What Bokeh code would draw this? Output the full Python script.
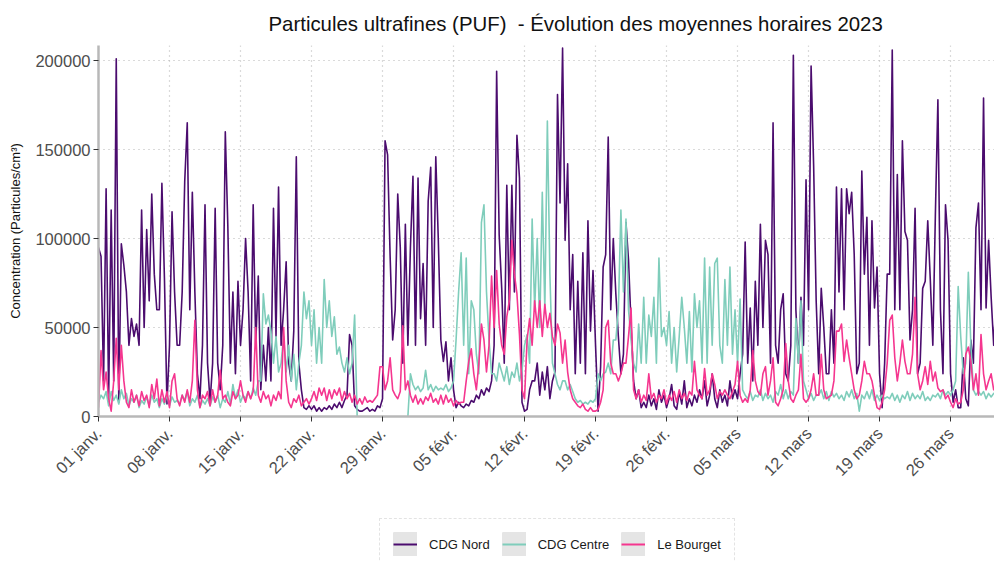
import numpy as np
from bokeh.plotting import figure
from bokeh.layouts import column
from bokeh.models import Range1d, FixedTicker, Legend, LegendItem, ColumnDataSource
from bokeh.embed import file_html
from bokeh.resources import INLINE

nan = float("nan")

title_text = "Particules ultrafines (PUF)\u00a0 - \u00c9volution des moyennes horaires 2023"
y_label = "Concentration (Particules/cm\u00b3)"
series_names = ["CDG Nord", "CDG Centre", "Le Bourget"]
series_colors = ["#4B0C6E", "#7FCDBB", "#F5368F"]

# x axis: days since 1 Jan 2023
x_tick_days = [0, 7, 14, 21, 28, 35, 42, 49, 56, 63, 70, 77, 84]
x_tick_labels = ["01 janv.", "08 janv.", "15 janv.", "22 janv.", "29 janv.",
                 "05 f\u00e9vr.", "12 f\u00e9vr.", "19 f\u00e9vr.", "26 f\u00e9vr.",
                 "05 mars", "12 mars", "19 mars", "26 mars"]
y_ticks = [0, 50000, 100000, 150000, 200000]
y_tick_labels = ["0", "50000", "100000", "150000", "200000"]

steps_per_day = 4  # one reading every 6 h from 1 Jan 00:00

# values in thousands of particles / cm3
cdg_nord_k = [
    95, 90, 20, 128,  10, 116, 20, 201,  8, 97, 85, 70,  40, 55, 45, 52,  40, 116, 50, 105,  65, 125, 80, 60,  60, 131, 78, 7,
    40, 115, 70, 40,  40, 70, 132, 165,  60, 126, 70, 24,  10, 40, 119, 30,  8, 30, 117, 30,  15, 40, 160, 107,  30, 70, 24, 76,
    40, 60, 100, 70,  20, 119, 40, 79,  15, 40, 20, 50,  20, 117, 45, 129,  40, 60, 87, 30,  20, 48, 146, 30,  15, 5, 4, 6,
    4, 6, 3, 5,  3, 5, 4, 6,  4, 7, 5, 8,  5, 9, 12, 46,  40, 6, 4, 3,  3, 4, 5, 3,  4, 3, 6, 5,
    10, 155, 147, 90,  43, 60, 125, 95,  30, 108, 40, 95,  135, 40, 134, 55,  86, 40, 121, 140,  50, 146, 99, 43,  31, 42, 20, 33,
    15, 5, 8, 6,  5, 7, 6, 9,  8, 12, 10, 15,  12, 16, 14, 20,  40, 194, 102, 72,  30, 130, 60, 130,  70, 158, 134, 8,
    3, 4, 15, 20,  20, 30, 12, 25,  15, 28, 10, 20,  25, 181, 120, 207,  99, 142, 60, 91,  24, 76, 30, 92,  24, 110, 48, 82,
    40, 3, 28, 84,  91, 157, 60, 100,  69, 45, 24, 35,  109, 88, 52, 20,  10, 15, 5, 8,  5, 12, 6, 10,  4, 15, 8, 12,
    5, 10, 18, 6,  4, 14, 7, 20,  5, 10, 6, 12,  8, 15, 10, 20,  6, 12, 24, 10,  5, 15, 8, 12,  6, 20, 10, 15,
    10, 24, 35, 98,  30, 61, 20, 76,  40, 108, 50, 99,  91, 30, 165, 40,  30, 60, 69, 24,  20, 40, 203, 60,  30, 67, 40, 133,
    60, 197, 141, 65,  24, 72, 50, 24,  24, 60, 30, 129,  70, 128, 60, 128,  114, 126, 91, 24,  30, 138, 80, 112,  40, 110, 61, 84,
    24, 5, 30, 80,  80, 206, 60, 136,  60, 155, 104, 99,  43, 60, 117, 24,  30, 72, 76, 110,  77, 40, 113, 178,  60, 24, 119, 99,
    24, 8, 15, 5,  5, 33, 10, 6,  43, 30, 106, 120,  60, 179, 61, 99,  67, 40, 67, 30,
]

cdg_centre_k = [
    8, 12, 10, 14,  6, 14, 9, 12,  7, 15, 10, 13,  6, 10, 8, 12,  5, 9, 7, 11,  6, 12, 8, 10,  5, 10, 7, 12,
    6, 11, 8, 9,  7, 12, 9, 14,  6, 10, 8, 12,  5, 9, 7, 10,  6, 11, 8, 12,  5, 10, 8, 14,  7, 18, 10, 15,
    8, 12, 10, 14,  10, 16, 12, 20,  20, 69, 52, 57,  48, 30, 45, 25,  30, 45, 25, 40,  20, 35, 15, 30,  40, 70, 55, 65,
    40, 60, 30, 50,  30, 77, 50, 65,  45, 56, 35, 39,  30, 25, 33, 24,  30, 57, 0, nan,  nan, nan, nan, nan,  nan, nan, nan, nan,
    nan, nan, nan, nan,  nan, nan, nan, nan,  nan, nan, 0, 24,  18, 15, 17, 14,  16, 26, 15, 18,  14, 17, 15, 16,  15, 18, 14, 16,
    20, 43, 70, 92,  40, 89, 24, 65,  60, 35, 24, 109,  119, 70, 43, 24,  24, 20, 30, 25,  20, 28, 18, 25,  22, 30, 20, 26,
    40, 46, 30, 111,  60, 100, 50, 126,  60, 166, 80, 30,  24, 18, 15, 20,  20, 15, 18, 14,  10, 8, 9, 7,  8, 7, 9, 8,
    10, 24, 20, 24,  25, 30, 24, 43,  43, 60, 116, 70,  111, 60, 43, 30,  25, 52, 30, 67,  30, 57, 45, 67,  30, 89, 45, 50,
    40, 59, 30, 50,  25, 45, 67, 50,  30, 59, 25, 69,  50, 65, 30, 89,  30, 84, 40, 86,  89, 40, 30, 77,  40, 84, 35, 60,
    30, 66, 15, 12,  10, 14, 9, 12,  11, 15, 9, 13,  10, 12, 8, 14,  12, 18, 10, 15,  10, 14, 12, 55,  30, 65, 20, 15,
    10, 13, 9, 12,  12, 15, 10, 14,  9, 14, 11, 13,  10, 12, 9, 14,  11, 15, 10, 13,  3, 12, 10, 14,  10, 15, 9, 12,
    9, 12, 10, 11,  10, 13, 9, 12,  8, 12, 10, 14,  9, 13, 10, 12,  10, 14, 9, 11,  9, 12, 11, 13,  10, 15, 12, 14,
    12, 15, 20, 73,  45, 24, 30, 81,  40, 15, 12, 14,  12, 14, 10, 13,  11, 13, 12, 14,
]

le_bourget_k = [
    5, 37, 15, 25,  10, 3, 20, 44,  15, 40, 20, 8,  5, 15, 8, 12,  6, 14, 9, 12,  5, 18, 10, 21,  6, 15, 8, 14,
    5, 20, 24, 10,  6, 12, 8, 15,  8, 20, 54, 15,  5, 12, 10, 14,  6, 15, 8, 12,  26, 10, 12, 8,  6, 14, 10, 12,
    20, 12, 8, 14,  10, 14, 50, 12,  8, 14, 10, 12,  6, 12, 9, 14,  10, 50, 20, 8,  5, 10, 8, 12,  6, 8, 10, 7,
    10, 14, 9, 16,  12, 16, 9, 15,  10, 15, 12, 16,  9, 14, 10, 13,  8, 12, 7, 10,  7, 11, 8, 9,  8, 10, 12, 28,
    28, 15, 20, 33,  15, 12, 10, 14,  51, 15, 20, 12,  8, 12, 7, 10,  7, 11, 9, 13,  8, 10, 7, 12,  7, 12, 8, 10,
    6, 9, 7, 8,  8, 20, 31, 38,  24, 15, 30, 52,  43, 25, 40, 79,  50, 82, 52, 40,  35, 56, 65, 99,  80, 69, 46, 15,
    10, 43, 55, 40,  65, 50, 65, 45,  63, 50, 58, 45,  40, 52, 47, 30,  43, 25, 15, 10,  8, 6, 5, 7,  4, 3, 5, 3,
    3, 4, 8, 15,  50, 54, 30, 24,  24, 20, 24, 30,  30, 45, 61, 15,  10, 15, 8, 12,  9, 24, 10, 13,  8, 12, 10, 15,
    7, 12, 9, 14,  8, 15, 10, 13,  9, 14, 12, 31,  15, 12, 10, 27,  12, 15, 24, 18,  10, 14, 12, 15,  12, 10, 14, 18,
    31, 12, 8, 10,  8, 15, 37, 20,  14, 12, 24, 28,  12, 20, 33, 8,  6, 10, 15, 41,  20, 10, 8, 12,  15, 35, 10, 8,
    10, 15, 24, 12,  12, 35, 15, 10,  11, 12, 20, 48,  48, 52, 31, 43,  33, 24, 15, 10,  12, 20, 31, 24,  24, 20, 12, 5,
    4, 8, 15, 30,  54, 57, 33, 20,  30, 43, 31, 24,  24, 35, 67, 24,  15, 20, 28, 18,  31, 20, 25, 16,  14, 15, 10, 12,
    8, 5, 10, 7,  8, 15, 35, 39,  31, 15, 24, 12,  46, 24, 15, 20,  24, 15, 18, 20,
]

n = min(len(cdg_nord_k), len(cdg_centre_k), len(le_bourget_k))
t_days = np.arange(n) / steps_per_day
src = ColumnDataSource(dict(
    t=t_days,
    nord=np.array(cdg_nord_k[:n], dtype=float) * 1000,
    centre=np.array(cdg_centre_k[:n], dtype=float) * 1000,
    bourget=np.array(le_bourget_k[:n], dtype=float) * 1000,
))
cols = ["nord", "centre", "bourget"]

FONT = "Liberation Sans"
W = 994
MAIN_H = 510
LEG_H = 52

p = figure(width=W, height=MAIN_H, output_backend="svg", toolbar_location=None,
           x_range=Range1d(0, 88.33), y_range=Range1d(0, 208500),
           min_border_left=98, min_border_right=0, min_border_top=45,
           min_border_bottom=MAIN_H - 416)
p.outline_line_color = None
p.background_fill_color = "white"
p.border_fill_color = "white"

p.title.text = title_text
p.title.text_font = FONT
p.title.text_font_size = "20.4px"
p.title.text_font_style = "normal"
p.title.text_color = "#111111"
p.title.align = "left"
p.title.offset = 170
p.title.standoff = 21

for ax in (p.xaxis[0], p.yaxis[0]):
    ax.axis_line_color = "#B8B8B8"
    ax.axis_line_width = 2.5
    ax.major_tick_line_color = "#333333"
    ax.major_tick_out = 5
    ax.major_tick_in = 0
    ax.minor_tick_line_color = None
    ax.major_label_text_font = FONT
    ax.major_label_text_font_size = "16.5px"
    ax.major_label_text_color = "#4D4D4D"

p.xaxis.ticker = FixedTicker(ticks=x_tick_days)
p.xaxis.major_label_overrides = {d: lab for d, lab in zip(x_tick_days, x_tick_labels)}
p.xaxis.major_label_orientation = np.pi / 4
p.xaxis.major_label_standoff = 9

p.yaxis.ticker = FixedTicker(ticks=y_ticks)
p.yaxis.major_label_overrides = {v: lab for v, lab in zip(y_ticks, y_tick_labels)}
p.yaxis.major_label_standoff = 3
p.yaxis.axis_label = y_label
p.yaxis.axis_label_text_font = FONT
p.yaxis.axis_label_text_font_size = "13px"
p.yaxis.axis_label_text_font_style = "normal"
p.yaxis.axis_label_text_color = "#111111"
p.yaxis.axis_label_standoff = 9

p.xgrid.ticker = FixedTicker(ticks=x_tick_days)
p.ygrid.ticker = FixedTicker(ticks=y_ticks[1:])
for g in (p.xgrid[0], p.ygrid[0]):
    g.grid_line_color = "#B5B5B5"
    g.grid_line_width = 1.2
    g.grid_line_dash = "1 4"

for col, color in zip(cols, series_colors):
    p.line("t", col, source=src, line_color=color, line_width=1.6, line_join="round")

# legend strip below the chart
lg = figure(width=W, height=LEG_H, output_backend="svg", toolbar_location=None,
            x_range=Range1d(0, 1), y_range=Range1d(0, 1),
            x_axis_location=None, y_axis_location=None,
            min_border=0, min_border_left=0, min_border_right=0,
            min_border_top=0, min_border_bottom=0)
lg.outline_line_color = None
lg.grid.visible = False
lg.background_fill_color = "white"
lg.border_fill_color = "white"

items = []
for name, color in zip(series_names, series_colors):
    key_bg = lg.quad(left=[-3], right=[-2], top=[-2], bottom=[-3],
                     fill_color="#E5E5E5", line_color="#E5E5E5", line_width=10)
    key_line = lg.line(x=[-3, -2], y=[-3, -2], line_color=color, line_width=2)
    items.append(LegendItem(label=name, renderers=[key_bg, key_line]))

legend = Legend(items=items, orientation="horizontal", location=(281, -8),
                glyph_width=24, glyph_height=24, label_standoff=12, spacing=12,
                padding=13, margin=0, label_text_font=FONT, label_text_font_size="13px",
                label_text_color="#1A1A1A", border_line_color="#C8C8C8",
                border_line_dash="1 4", border_line_width=1.2,
                background_fill_color="white", background_fill_alpha=1.0)
lg.add_layout(legend, "center")

layout = column(p, lg, spacing=0)
open("out.html", "w").write(file_html(layout, INLINE))
